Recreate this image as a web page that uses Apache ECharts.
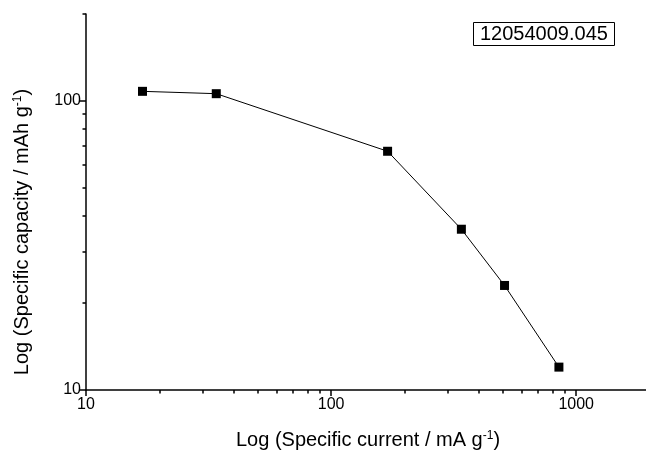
<!DOCTYPE html>
<html>
<head>
<meta charset="utf-8">
<script src="https://cdn.jsdelivr.net/npm/echarts@6/dist/echarts.min.js"></script>
<style>html,body{margin:0;padding:0;background:#fff}#c{width:646px;height:451px}</style>
</head>
<body>
<div id="c"></div>
<script>
var current = [17, 34, 170, 340, 510, 850];
var capacity = [108, 106, 67, 36, 23, 12];
var xMajor = [10, 100, 1000];
var xMinor = [20,30,40,50,60,70,80,90,200,300,400,500,600,700,800,900,2000];
var yMajor = [10, 100];
var yMinor = [20,30,40,50,60,70,80,90,200];
var boxLabel = '12054009.045';

var font = 'Arial, "Liberation Sans", sans-serif';
var chart = echarts.init(document.getElementById('c'));
var sup = {sup: {fontSize: 12, verticalAlign: 'top', lineHeight: 12, padding: [0,0,9,0], color: '#000', fontFamily: font}};
function axisBase(extra) {
  return Object.assign({
    type: 'log', logBase: 10, gridIndex: 0,
    splitLine: {show: false}, minorSplitLine: {show: false}
  }, extra);
}
chart.setOption({
  animation: false,
  backgroundColor: '#fff',
  grid: {left: 86, top: 14, width: 564, height: 376, containLabel: false, outerBoundsMode: 'none'},
  title: {
    text: boxLabel, left: 473, top: 22,
    borderColor: '#000', borderWidth: 1, padding: [2, 7],
    textStyle: {fontSize: 20, fontWeight: 'normal', color: '#000', fontFamily: font}
  },
  xAxis: [
    axisBase({
      min: 10, max: 2000, position: 'bottom',
      name: 'Log (Specific current / mA g{sup|-1})', nameLocation: 'middle', nameGap: 40,
      nameTextStyle: {fontSize: 20, color: '#000', fontFamily: font, rich: sup},
      axisLine: {show: true, onZero: false, lineStyle: {color: '#000', width: 1.5}},
      axisTick: {show: true, length: 6, inside: false, lineStyle: {color: '#000', width: 1.5}, customValues: xMajor},
      axisLabel: {show: true, fontSize: 16, color: '#000', fontFamily: font, margin: 7, customValues: xMajor, formatter: function(v){return String(v);}}
    }),
    axisBase({
      min: 10, max: 2000, position: 'bottom',
      axisLine: {show: false},
      axisTick: {show: true, length: 3.5, lineStyle: {color: '#000', width: 1.5}, customValues: xMinor},
      axisLabel: {show: false}
    })
  ],
  yAxis: [
    axisBase({
      min: 10, max: 200, position: 'left',
      name: 'Log (Specific capacity / mAh g{sup|-1})', nameLocation: 'middle', nameGap: 54, nameRotate: 90,
      nameTextStyle: {fontSize: 20, color: '#000', fontFamily: font, rich: sup, padding: [0, 60, 0, 0]},
      axisLine: {show: true, onZero: false, lineStyle: {color: '#000', width: 1.5}},
      axisTick: {show: true, length: 7, lineStyle: {color: '#000', width: 1.5}, customValues: yMajor},
      axisLabel: {show: true, fontSize: 16, color: '#000', fontFamily: font, margin: 5, customValues: yMajor, formatter: function(v){return String(v);}}
    }),
    axisBase({
      min: 10, max: 200, position: 'left',
      axisLine: {show: false},
      axisTick: {show: true, length: 3.5, lineStyle: {color: '#000', width: 1.5}, customValues: yMinor},
      axisLabel: {show: false}
    })
  ],
  series: [{
    type: 'line',
    data: current.map(function(x, i){ return [x, capacity[i]]; }),
    xAxisIndex: 0, yAxisIndex: 0,
    symbol: 'rect', symbolSize: 9,
    itemStyle: {color: '#000'},
    lineStyle: {color: '#000', width: 1},
    emphasis: {disabled: true}
  }]
});
</script>
</body>
</html>
